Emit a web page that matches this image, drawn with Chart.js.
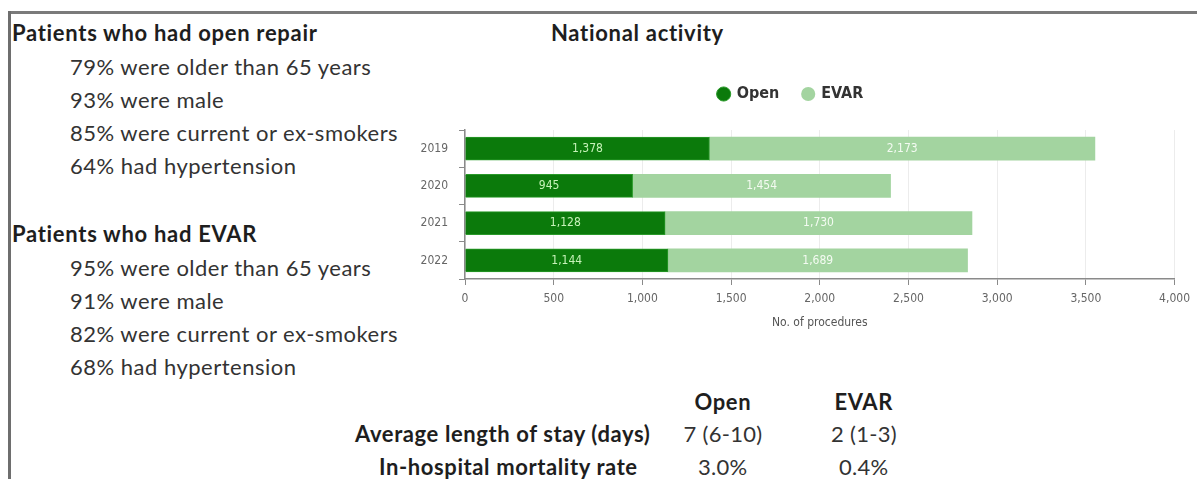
<!DOCTYPE html>
<html>
<head>
<meta charset="utf-8">
<script src="https://cdn.jsdelivr.net/npm/chart.js@4"></script>
<style>
  html, body { margin: 0; padding: 0; background: #fff; }
  body { width: 1197px; height: 479px; position: relative; overflow: hidden; font-family: Lato, "Open Sans", sans-serif; color: #2a2a2a; }
  .frame-top { position: absolute; left: 8px; top: 11px; right: 0; height: 3px; background: #7a7a7a; }
  .frame-left { position: absolute; left: 8px; top: 11px; bottom: 0; width: 3px; background: #6e6e6e; }
  .t { position: absolute; white-space: nowrap; line-height: 26px; }
  .head { font-weight: bold; font-size: 22px; letter-spacing: 0.7px; color: #1e1e1e; }
  .item { font-size: 22px; letter-spacing: 0.5px; color: #333; }
  .cell { font-size: 22px; letter-spacing: 0.3px; color: #333; }
  .cell.b { font-weight: bold; letter-spacing: 0.6px; color: #1e1e1e; }
  #chartBox { position: absolute; left: 405px; top: 62px; width: 792px; height: 272px; }
</style>
</head>
<body>
<div class="frame-top"></div>
<div class="frame-left"></div>

<div class="t head" style="left:12px; top:20px;">Patients who had open repair</div>
<div class="t head" style="left:12px; top:221px;">Patients who had EVAR</div>
<div class="t head" style="left:551px; top:20px;">National activity</div>

<div id="chartBox"><canvas id="activityChart"></canvas></div>

<script>
// 연도별 시술 건수
const years = ['2019', '2020', '2021', '2022'];
const openCounts = [1378, 945, 1128, 1144];
const evarCounts = [2173, 1454, 1730, 1689];
const xTicks = [0, 500, 1000, 1500, 2000, 2500, 3000, 3500, 4000];

// 환자 특성 텍스트
const openFacts = ['79% were older than 65 years', '93% were male', '85% were current or ex-smokers', '64% had hypertension'];
const evarFacts = ['95% were older than 65 years', '91% were male', '82% were current or ex-smokers', '68% had hypertension'];

// 하단 표
const tableCols = ['Open', 'EVAR'];
const tableRows = ['Average length of stay (days)', 'In-hospital mortality rate'];
const tableValues = [['7 (6-10)', '2 (1-3)'], ['3.0%', '0.4%']];

const DARK = '#0b7a0b';
const LIGHT = '#a3d4a0';

function addText(cls, text, left, top) {
    const el = document.createElement('div');
    el.className = 't ' + cls;
    el.textContent = text;
    el.style.left = left + 'px';
    el.style.top = top + 'px';
    document.body.appendChild(el);
    return el;
}

// 왼쪽 목록
function renderFacts(facts, startTop) {
    facts.forEach((f, i) => addText('item', f, 70, startTop + i * 33));
}
renderFacts(openFacts, 54);
renderFacts(evarFacts, 255);

// 하단 표 그리기 (열 중앙 정렬)
function renderTable() {
    const colCenters = [723, 864];
    const rowTops = [421, 454];
    const labelRight = [650, 638];
    tableCols.forEach((c, i) => {
        const el = addText('cell b', c, 0, 389);
        el.style.left = (colCenters[i] - el.offsetWidth / 2) + 'px';
    });
    tableRows.forEach((r, ri) => {
        const el = addText('cell b', r, 0, rowTops[ri]);
        el.style.left = (labelRight[ri] - el.offsetWidth) + 'px';
        tableValues[ri].forEach((v, ci) => {
            const cell = addText('cell', v, 0, rowTops[ri]);
            cell.style.left = (colCenters[ci] - cell.offsetWidth / 2) + 'px';
        });
    });
}
renderTable();

// 막대 안에 값 표시
const barValueLabels = {
    id: 'barValueLabels',
    afterDatasetsDraw(chart) {
        const ctx = chart.ctx;
        ctx.save();
        ctx.font = '12px "DejaVu Sans Condensed", sans-serif';
        ctx.textAlign = 'center';
        ctx.textBaseline = 'middle';
        chart.data.datasets.forEach((ds, di) => {
            ctx.fillStyle = di === 0 ? '#c6f2b8' : '#f4fbf2';
            chart.getDatasetMeta(di).data.forEach((bar, i) => {
                const mid = (bar.x + bar.base) / 2;
                ctx.fillText(ds.data[i].toLocaleString('en-US'), mid, bar.y);
            });
        });
        ctx.restore();
    }
};

// 범례 아래 여백
const legendGap = {
    id: 'legendGap',
    beforeInit(chart) {
        const fit = chart.legend.fit;
        chart.legend.fit = function () {
            fit.bind(this)();
            this.height += 18;
        };
    }
};

new Chart(document.getElementById('activityChart'), {
    type: 'bar',
    data: {
        labels: years,
        datasets: [
            { label: 'Open', data: openCounts, backgroundColor: DARK, borderColor: '#2a9a2a', borderWidth: 1, barThickness: 23 },
            { label: 'EVAR', data: evarCounts, backgroundColor: LIGHT, borderWidth: 0, barThickness: 23 }
        ]
    },
    options: {
        indexAxis: 'y',
        responsive: true,
        maintainAspectRatio: false,
        animation: false,
        layout: { padding: { right: 20, top: 0, bottom: 0 } },
        scales: {
            x: {
                stacked: true,
                min: 0,
                max: 4000,
                afterBuildTicks: scale => { scale.ticks = xTicks.map(v => ({ value: v })); },
                afterFit: scale => { scale.height = 55; },
                border: { color: '#8a8a8a', width: 1.5 },
                grid: { color: '#ececec', tickColor: '#8a8a8a', tickLength: 6 },
                ticks: {
                    color: '#666',
                    padding: 7,
                    font: { family: '"DejaVu Sans Condensed", sans-serif', size: 12 },
                    callback: v => v.toLocaleString('en-US')
                },
                title: {
                    display: true,
                    text: 'No. of procedures',
                    color: '#555',
                    padding: { top: 3 },
                    font: { family: '"DejaVu Sans Condensed", sans-serif', size: 12 }
                }
            },
            y: {
                stacked: true,
                afterFit: scale => { scale.width = 60; },
                border: { color: '#8a8a8a', width: 1.5 },
                grid: { drawOnChartArea: false, tickColor: '#8a8a8a', tickLength: 6 },
                ticks: {
                    color: '#666',
                    padding: 11,
                    font: { family: '"DejaVu Sans Condensed", sans-serif', size: 12 }
                }
            }
        },
        plugins: {
            legend: {
                position: 'top',
                labels: {
                    usePointStyle: true,
                    pointStyle: 'circle',
                    boxWidth: 10,
                    boxHeight: 10,
                    padding: 24,
                    color: '#333',
                    font: { family: '"DejaVu Sans Condensed", sans-serif', size: 16, weight: 'bold' }
                }
            },
            tooltip: { enabled: false }
        }
    },
    plugins: [barValueLabels, legendGap]
});
</script>
</body>
</html>
